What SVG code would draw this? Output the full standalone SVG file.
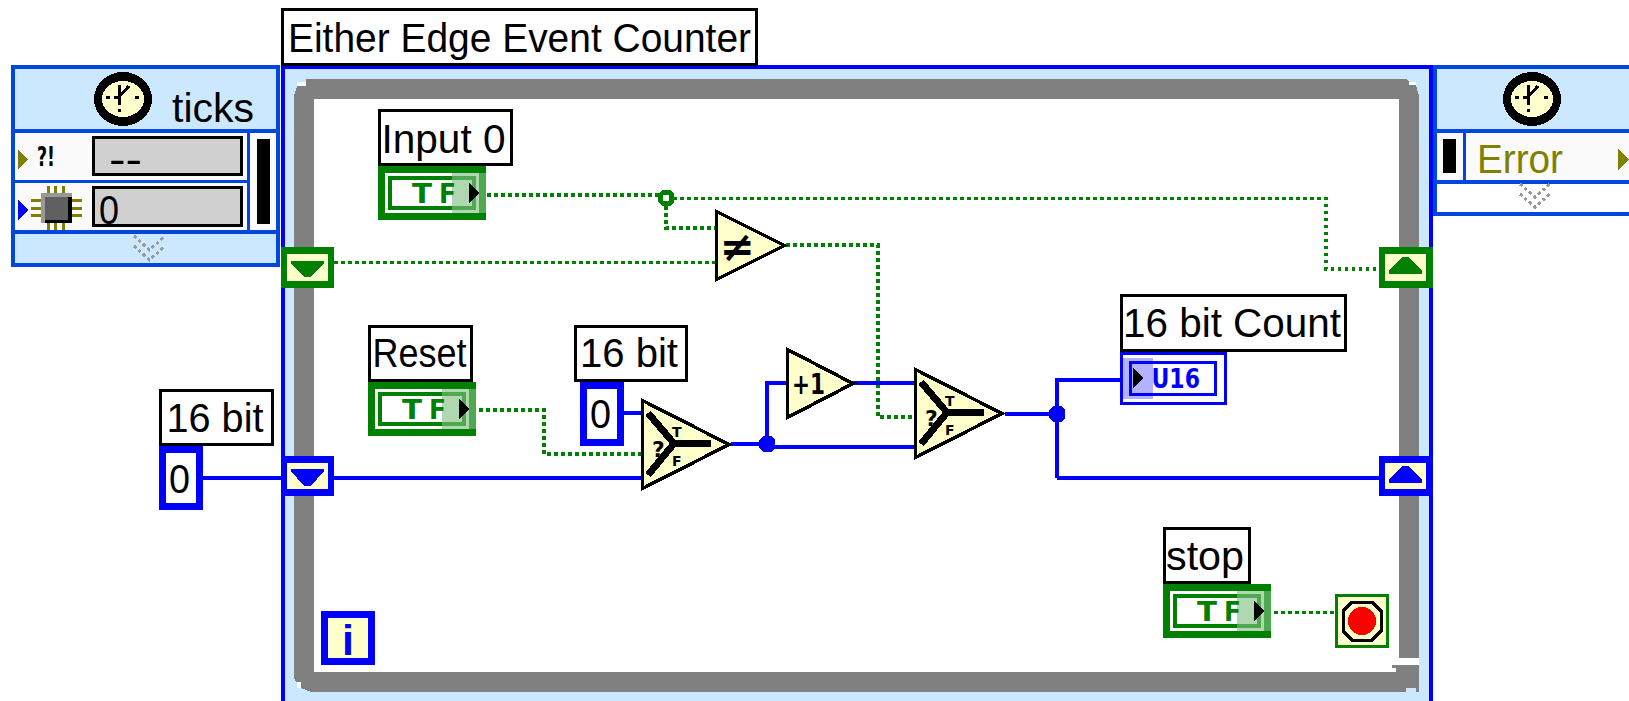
<svg xmlns="http://www.w3.org/2000/svg" width="1629" height="701" viewBox="0 0 1629 701">
<style>
svg{shape-rendering:crispEdges}
.t{font-family:"Liberation Sans",Arial,sans-serif;font-size:41px;fill:#000}
.b{font-family:"DejaVu Sans",sans-serif;font-weight:bold}
.lab{fill:#fff;stroke:#000;stroke-width:3}
.bw{fill:none;stroke:#0000ff;stroke-width:4}
.gw{fill:none;stroke:#008000;stroke-width:3.500;stroke-dasharray:3.500 3.500}
.sb{fill:#0046e0}
.tri{fill:#ffffcc;stroke:#000;stroke-width:3.500;stroke-linejoin:miter}
.ch{fill:none;stroke:#999;stroke-width:3;stroke-dasharray:3 3}
.ic{fill:none;stroke:#000;stroke-width:7}
.tfl{font-size:27px;fill:#008000}
</style>
<defs>
<g id="tf">
<rect width="108" height="54" fill="#008000"/>
<rect x="7" y="7" width="94" height="40" fill="#fff"/>
<rect x="12" y="12" width="84" height="30" fill="#fff" stroke="#008000" stroke-width="4"/>
<rect x="74" y="7" width="27" height="40" fill="#b0d8b0"/>
<rect x="74" y="10" width="24" height="4" fill="#50a850"/>
<rect x="74" y="40" width="24" height="4" fill="#50a850"/>
<rect x="94" y="10" width="4" height="34" fill="#50a850"/>
<rect x="101" y="7" width="7" height="40" fill="#50a850"/>
<path d="M91 17L91 37L101 27Z" fill="#000"/>
</g>
<g id="clock">
<ellipse rx="29" ry="27" fill="#000"/>
<ellipse rx="21" ry="18" fill="#ffffcc"/>
<path d="M-4 -14V6M-4 -2L6 -13M-9 -2H-3" fill="none" stroke="#000" stroke-width="3"/>
<rect x="-17" y="-3" width="4" height="3" fill="#000"/>
<rect x="12" y="-3" width="4" height="3" fill="#000"/>
<rect x="-5" y="10" width="3" height="3" fill="#000"/>
</g>
<g id="sel">
<polygon class="tri" points="1.500,1.500 88,45.500 1.500,89.500"/>
<path class="ic" d="M7 14L33 44.500L7 76M33 44.500H70"/>
</g>
</defs>
<rect width="1629" height="701" fill="#fff"/>

<g id="loop">
<rect x="281" y="65" width="1152" height="636" fill="#cce8ff"/>
<path fill="#808080" d="M306 79H1406L1409 82H1416V85L1419 96V692H311L301 688L297 683L294 678V96L297 86L306 82Z"/>
<rect x="314" y="99" width="1085" height="573" fill="#fff"/>
<rect x="297" y="82" width="9" height="4" fill="#fff"/>
<rect x="1409" y="82" width="7" height="3" fill="#fff"/>
<rect x="297" y="682" width="4" height="6" fill="#fff"/>
<rect x="1399" y="658" width="20" height="7" fill="#fff"/>
<rect x="1392" y="665" width="27" height="3" fill="#808080"/>
<rect x="1396" y="668" width="23" height="4" fill="#808080"/>
<rect x="1406" y="688" width="10" height="4" fill="#cce8ff"/>
<rect x="281" y="65" width="1152" height="4" fill="#0000ff"/>
<rect x="281" y="65" width="3.500" height="636" fill="#0000ff"/>
<rect x="1429" y="65" width="4" height="636" fill="#0000ff"/>
</g>

<g id="left-node">
<rect x="11" y="65" width="269" height="202" fill="#cce8ff"/>
<rect x="14" y="133" width="263" height="97" fill="#fafafa"/>
<path class="sb" d="M11 65H280V267H11ZM15 69V129H276V69ZM15 133V180H247V133ZM250 133V230H276V133ZM15 183V230H247V183ZM15 234V263H276V234Z" fill-rule="evenodd"/>
<use href="#clock" x="123" y="99"/>
<text class="t" x="172" y="122" textLength="82" lengthAdjust="spacingAndGlyphs">ticks</text>
<path d="M18 149L28 159.500L18 170Z" fill="#808000"/>
<text class="b" x="37" y="166" font-size="26" textLength="18" lengthAdjust="spacingAndGlyphs" fill="#000">?!</text>
<rect x="93.500" y="137.500" width="148" height="37" fill="#d0d0d0" stroke="#000" stroke-width="3"/>
<text class="t" x="109" y="173" textLength="33" lengthAdjust="spacingAndGlyphs">--</text>
<rect x="93.500" y="187.500" width="148" height="38" fill="#d0d0d0" stroke="#000" stroke-width="3"/>
<text class="t" x="99" y="224" textLength="20" lengthAdjust="spacingAndGlyphs">0</text>
<rect x="257" y="139" width="13" height="85" fill="#000"/>
<path d="M18 200L28 210L18 220Z" fill="#0000ff"/>
<path d="M31 200H82M31 208H82M31 215H82M48 186V230M55 186V230M63 186V230" stroke="#808000" stroke-width="3" fill="none"/>
<rect x="41" y="193" width="31" height="30" fill="#999"/>
<rect x="45" y="197" width="27" height="26" fill="#000"/>
<rect x="45" y="197" width="23" height="23" fill="#606060"/>
<polyline class="ch" points="134,236 149.500,250 165,236"/>
<polyline class="ch" points="134,246 149.500,260 165,246"/>
</g>

<g id="right-node">
<rect x="1433" y="65" width="196" height="151" fill="#fff"/>
<rect x="1436" y="68" width="193" height="61" fill="#cce8ff"/>
<rect x="1436" y="133" width="193" height="47" fill="#fafafa"/>
<path class="sb" d="M1433 65H1629V69H1437V129H1629V133H1466V180H1629V184H1437V212H1629V216H1433ZM1437 133V180H1463V133Z" fill-rule="evenodd"/>
<use href="#clock" x="1532" y="99"/>
<rect x="1443" y="139" width="13" height="34" fill="#000"/>
<text class="t" x="1477" y="173" textLength="86" lengthAdjust="spacingAndGlyphs" style="fill:#808000">Error</text>
<path d="M1618 149L1629 159.500L1618 170Z" fill="#808000"/>
<polyline class="ch" points="1520,184 1535,197 1550,184"/>
<polyline class="ch" points="1520,194 1535,207 1550,194"/>
</g>

<g id="connectors">
<path class="gw" d="M487 195H660"/>
<path class="gw" d="M673 198.500H1326V269H1379"/>
<path class="gw" d="M666 206V228H715"/>
<path class="gw" d="M334 262.500H715"/>
<path class="gw" d="M786 245H878V417H914"/>
<path class="gw" d="M479 410H544V454H641"/>
<path class="gw" d="M1274 612.500H1335"/>
<path class="bw" d="M202 478H641"/>
<path class="bw" d="M624 413H641"/>
<path class="bw" d="M731 444H767"/>
<path class="bw" d="M767 447H914"/>
<path class="bw" d="M767 445V383H914"/>
<path class="bw" d="M1005 414H1057"/>
<path class="bw" d="M1057 478V380H1120"/>
<path class="bw" d="M1057 478H1379"/>
<path d="M759 440L763 436H771L775 440V448L771 452H763L759 448Z" fill="#0000ff"/>
<path d="M1049 410L1053 406H1061L1065 410V418L1061 422H1053L1049 418Z" fill="#0000ff"/>
<path d="M658 194L662 190H670L674 194V202L670 206H662L658 202ZM663 195V201H669V195Z" fill="#008000" fill-rule="evenodd"/>
</g>

<g id="title-label">
<rect class="lab" x="282.500" y="9.500" width="474" height="55"/>
<text class="t" x="288" y="52" textLength="463" lengthAdjust="spacingAndGlyphs">Either Edge Event Counter</text>
</g>

<g id="input0">
<rect class="lab" x="379.500" y="110.500" width="132" height="54"/>
<text class="t" x="381.500" y="153" textLength="124" lengthAdjust="spacingAndGlyphs">Input 0</text>
<use href="#tf" x="378" y="166"/>
<text class="b tfl" x="412" y="203" textLength="20" lengthAdjust="spacingAndGlyphs">T</text>
<text class="b tfl" x="439" y="203" textLength="17" lengthAdjust="spacingAndGlyphs">F</text>
</g>

<g id="reset">
<rect class="lab" x="369.500" y="326.500" width="102" height="54"/>
<text class="t" x="372.500" y="367" textLength="94" lengthAdjust="spacingAndGlyphs">Reset</text>
<use href="#tf" x="368" y="382"/>
<text class="b tfl" x="402" y="419" textLength="20" lengthAdjust="spacingAndGlyphs">T</text>
<text class="b tfl" x="429" y="419" textLength="17" lengthAdjust="spacingAndGlyphs">F</text>
</g>

<g id="const-left">
<rect class="lab" x="160.500" y="390.500" width="112" height="54"/>
<text class="t" x="166.500" y="432" textLength="97" lengthAdjust="spacingAndGlyphs">16 bit</text>
<rect x="162.500" y="449.500" width="36.500" height="57" fill="#fff" stroke="#0000ff" stroke-width="7"/>
<text class="t" x="169" y="493" textLength="21" lengthAdjust="spacingAndGlyphs">0</text>
</g>

<g id="const-top">
<rect class="lab" x="575.500" y="326.500" width="111" height="54"/>
<text class="t" x="580" y="367" textLength="98" lengthAdjust="spacingAndGlyphs">16 bit</text>
<rect x="583.500" y="385.500" width="37" height="57" fill="#fff" stroke="#0000ff" stroke-width="7"/>
<text class="t" x="590" y="428" textLength="21" lengthAdjust="spacingAndGlyphs">0</text>
</g>

<g id="tunnel-bool-in">
<rect x="281" y="247" width="53" height="41" fill="#008000"/>
<rect x="287" y="254" width="41" height="27" fill="#ffffcc"/>
<path d="M291 261H324V263L311 277H304L291 263Z" fill="#008000"/>
</g>
<g id="tunnel-int-in">
<rect x="281" y="456" width="53" height="40" fill="#0000ff"/>
<rect x="287" y="463" width="41" height="26" fill="#ffffcc"/>
<path d="M291 469H324V471L311 486H304L291 471Z" fill="#0000ff"/>
</g>
<g id="tunnel-bool-out">
<rect x="1379" y="247" width="54" height="41" fill="#008000"/>
<rect x="1385" y="254" width="41" height="27" fill="#ffffcc"/>
<path d="M1389 274H1422V271L1409 257H1402L1389 271Z" fill="#008000"/>
</g>
<g id="tunnel-int-out">
<rect x="1379" y="456" width="54" height="40" fill="#0000ff"/>
<rect x="1385" y="463" width="41" height="26" fill="#ffffcc"/>
<path d="M1389 483H1422V480L1409 466H1402L1389 480Z" fill="#0000ff"/>
</g>

<g id="not-equal">
<polygon class="tri" points="716.500,211.500 784.500,245.500 716.500,279.500"/>
<text class="b" x="737" y="261" font-size="42" text-anchor="middle" fill="#000">≠</text>
</g>

<g id="increment">
<polygon class="tri" points="787.500,349.500 853,383.500 787.500,417.500"/>
<text class="b" x="792" y="394" font-size="29" textLength="33" lengthAdjust="spacingAndGlyphs" fill="#000">+1</text>
</g>

<g id="select1">
<use href="#sel" x="641" y="399"/>
<text class="b" x="652" y="457" font-size="22" fill="#000">?</text>
<text class="b" x="672" y="437" font-size="14" fill="#000">T</text>
<text class="b" x="672" y="466" font-size="14" fill="#000">F</text>
</g>

<g id="select2">
<use href="#sel" x="914" y="368"/>
<text class="b" x="925" y="426" font-size="22" fill="#000">?</text>
<text class="b" x="945" y="406" font-size="14" fill="#000">T</text>
<text class="b" x="945" y="435" font-size="14" fill="#000">F</text>
</g>

<g id="count">
<rect class="lab" x="1121.500" y="295.500" width="224" height="55"/>
<text class="t" x="1123" y="337" textLength="218" lengthAdjust="spacingAndGlyphs">16 bit Count</text>
<rect x="1121.500" y="353.500" width="104" height="50" fill="#fff" stroke="#0000ff" stroke-width="3"/>
<rect x="1130.500" y="362.500" width="85" height="32" fill="#fff" stroke="#0000ff" stroke-width="3"/>
<rect x="1120" y="358" width="33" height="41" fill="#0000ff" fill-opacity=".3"/>
<path d="M1133 368L1144 378L1133 388Z" fill="#000"/>
<text class="b" x="1151.500" y="388" font-size="27" textLength="48.500" lengthAdjust="spacingAndGlyphs" fill="#0000ff">U16</text>
</g>

<g id="stop-control">
<rect class="lab" x="1164.500" y="528.500" width="85" height="54"/>
<text class="t" x="1166" y="570" textLength="78" lengthAdjust="spacingAndGlyphs">stop</text>
<use href="#tf" x="1163" y="584"/>
<text class="b tfl" x="1197" y="621" textLength="20" lengthAdjust="spacingAndGlyphs">T</text>
<text class="b tfl" x="1224" y="621" textLength="17" lengthAdjust="spacingAndGlyphs">F</text>
</g>

<g id="stop-terminal">
<rect x="1336.500" y="595.500" width="51" height="51" fill="#ffffcc" stroke="#008000" stroke-width="3"/>
<path d="M1352 602H1372L1381 611V631L1372 640H1352L1343 631V611Z" fill="none" stroke="#000" stroke-width="3"/>
<circle cx="1362" cy="621" r="14" fill="#ff0000"/>
</g>

<g id="iteration">
<rect x="324.500" y="614.500" width="47" height="47" fill="#ffffcc" stroke="#0000ff" stroke-width="7"/>
<text x="348" y="655" font-family="Liberation Sans, Arial, sans-serif" font-weight="bold" font-size="43" text-anchor="middle" fill="#0000ff">i</text>
</g>
</svg>
